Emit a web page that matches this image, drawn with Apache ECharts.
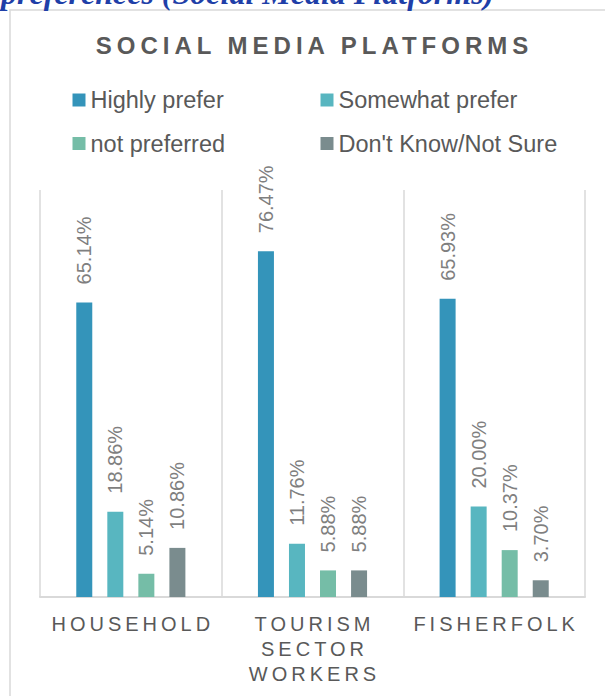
<!DOCTYPE html>
<html>
<head>
<meta charset="utf-8">
<script src="https://cdn.jsdelivr.net/npm/echarts@6/dist/echarts.min.js"></script>
<style>
  html, body { margin: 0; padding: 0; background: #ffffff; }
  #chart { width: 605px; height: 696px; }
</style>
</head>
<body>
<div id="chart"></div>
<script>
// Survey groups along the x axis
const categories = ['HOUSEHOLD', 'TOURISM\nSECTOR\nWORKERS', 'FISHERFOLK'];

// Response shares (%) per group
const highlyPrefer   = [65.14, 76.47, 65.93];
const somewhatPrefer = [18.86, 11.76, 20.00];
const notPreferred   = [5.14, 5.88, 10.37];
const dontKnow       = [10.86, 5.88, 3.70];

const seriesNames = ['Highly prefer', 'Somewhat prefer', 'not preferred', "Don't Know/Not Sure"];
const seriesValues = [highlyPrefer, somewhatPrefer, notPreferred, dontKnow];
const seriesColors = ['#3494BA', '#58B6C0', '#75BDA7', '#7A8C8E'];

const titleText = 'SOCIAL MEDIA PLATFORMS';
const captionText = 'preferences (Social Media Platforms)';

const FONT = '"Liberation Sans", Arial, sans-serif';

const chart = echarts.init(document.getElementById('chart'), null, { renderer: 'svg' });

const legendText = { fontSize: 23.5, color: '#595959', fontFamily: FONT, lineHeight: 24 };

const option = {
  animation: false,
  backgroundColor: '#ffffff',
  graphic: [
    {
      type: 'rect', z: 0, silent: true,
      shape: { x: 10, y: 10, width: 640, height: 720 },
      style: { fill: 'none', stroke: '#d9d9d9', lineWidth: 1.5 }
    },
    {
      type: 'text', z: 10, silent: true,
      x: 1, y: 9,
      style: {
        text: captionText,
        fontSize: 32, fontWeight: 'bold', fontStyle: 'italic',
        fontFamily: '"Liberation Serif", "Times New Roman", serif',
        fill: '#1F3FA8', align: 'left', verticalAlign: 'bottom'
      }
    },
    {
      type: 'text', z: 10, silent: true,
      x: 312, y: 45,
      style: {
        text: titleText,
        fontSize: 24, fontWeight: 'bold', fontFamily: FONT,
        fill: '#595959', align: 'center', verticalAlign: 'middle'
      }
    }
  ],
  legend: [
    {
      data: [seriesNames[0], seriesNames[2]],
      orient: 'vertical', left: 72.5, top: 88, padding: 0,
      itemWidth: 13, itemHeight: 13, itemGap: 19.5, icon: 'rect',
      textStyle: legendText
    },
    {
      data: [seriesNames[1], seriesNames[3]],
      orient: 'vertical', left: 320.5, top: 88, padding: 0,
      itemWidth: 13, itemHeight: 13, itemGap: 19.5, icon: 'rect',
      textStyle: legendText
    }
  ],
  grid: { left: 40, right: 20, top: 190, bottom: 99, containLabel: false },
  xAxis: {
    type: 'category',
    data: categories,
    axisTick: { show: false },
    axisLine: { lineStyle: { color: '#d9d9d9', width: 2 } },
    splitLine: { show: true, lineStyle: { color: '#d9d9d9', width: 1.5 } },
    axisLabel: {
      interval: 0, margin: 14,
      fontSize: 20, lineHeight: 25, color: '#595959', fontFamily: FONT
    }
  },
  yAxis: {
    type: 'value', min: 0, max: 90, show: false,
    splitLine: { show: false }
  },
  series: seriesNames.map((name, i) => ({
    name: name,
    type: 'bar',
    data: seriesValues[i],
    barWidth: 16,
    barGap: '94%',
    itemStyle: { color: seriesColors[i] },
    label: {
      show: true,
      position: 'top',
      distance: 18,
      rotate: 90,
      align: 'left',
      verticalAlign: 'middle',
      fontSize: 20,
      color: '#7f7f7f',
      fontFamily: FONT,
      formatter: p => p.value.toFixed(2) + '%'
    }
  }))
};

chart.setOption(option);

// Wide tracking for the heading and the upper-case group names
function spaceLetters() {
  document.querySelectorAll('#chart svg text').forEach(t => {
    const s = t.textContent;
    let sp = 0;
    if (s === titleText) sp = 5;
    else if (/^[A-Z]+$/.test(s)) sp = 4;
    if (sp) {
      t.setAttribute('letter-spacing', sp);
      if (t.getAttribute('text-anchor') === 'middle') t.setAttribute('dx', sp / 2);
    }
  });
}
spaceLetters();
chart.on('finished', spaceLetters);
setTimeout(spaceLetters, 50);
</script>
</body>
</html>
